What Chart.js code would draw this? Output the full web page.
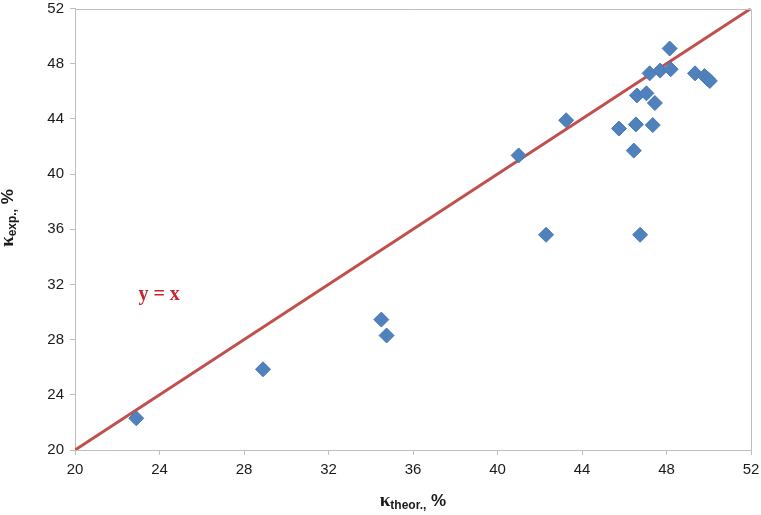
<!DOCTYPE html>
<html>
<head>
<meta charset="utf-8">
<script src="https://cdn.jsdelivr.net/npm/chart.js@4.4.1/dist/chart.umd.min.js"></script>
<style>
	html, body { margin: 0; padding: 0; background: #fff; }
	canvas { display: block; }
</style>
</head>
<body>
<canvas id="chartKappa" width="761" height="515"></canvas>
<script>
'use strict'

// measured points: theoretical vs experimental, %
const kappaTheor = [22.9, 28.9, 34.5, 34.75, 41.0, 42.3, 43.25, 45.75, 46.45, 46.55, 46.6, 46.75, 47.05, 47.35, 47.2, 47.45, 47.7, 48.15, 48.2, 49.35, 49.8, 49.95, 50.05];
const kappaExp = [22.3, 25.85, 29.45, 28.3, 41.35, 35.6, 43.9, 43.3, 41.7, 43.6, 45.7, 35.6, 45.85, 43.55, 47.3, 45.15, 47.5, 49.1, 47.6, 47.3, 47.1, 46.9, 46.75];

// y = x reference line
const lineX = [20, 52];
const lineY = [20, 52];

const axisMin = 20;
const axisMax = 52;
const axisStep = 4;

const colors = {
	marker: '#4F81BD',
	markerBorder: '#4A7AB5',
	line: '#C0504D',
	axis: '#BFBFBF',
	text: '#1A1A1A',
	label: '#C0282D',
};

const tickFont = { family: '"Liberation Sans Narrow", "Liberation Sans", Arial, sans-serif', size: 15 };

let ctx = document.getElementById('chartKappa').getContext('2d');

// draws "κ<sub>sub</sub>, %" style titles + frame + y = x label
const extras = {
	id: 'extras',
	afterDraw(chart) {
		const c = chart.ctx;
		const a = chart.chartArea;
		c.save();

		// top and right frame
		c.strokeStyle = colors.axis;
		c.lineWidth = 1;
		c.beginPath();
		c.moveTo(a.left, Math.round(a.top) + 0.5);
		c.lineTo(Math.round(a.right) + 0.5, Math.round(a.top) + 0.5);
		c.lineTo(Math.round(a.right) + 0.5, a.bottom);
		c.stroke();

		// y = x label, placed in data units
		const xs = chart.scales.x, ys = chart.scales.y;
		c.fillStyle = colors.label;
		c.font = 'bold 20px "Liberation Serif", "Times New Roman", serif';
		c.textAlign = 'left';
		c.textBaseline = 'alphabetic';
		c.fillText('y = x', xs.getPixelForValue(23.0), ys.getPixelForValue(30.9));

		// axis titles
		c.fillStyle = colors.text;
		drawTitle(c, 'theor.,', (a.left + a.right) / 2, 506, 0);
		drawTitle(c, 'exp.,', 13, 218, -Math.PI / 2);

		c.restore();
	},
};

function drawTitle(c, sub, cx, cy, rot) {
	const mainFont = 'bold 19px "Liberation Serif", "Times New Roman", serif';
	const subFont = 'bold 12px "Liberation Sans", Arial, sans-serif';
	const pctFont = 'bold 17px "Liberation Sans", Arial, sans-serif';
	c.save();
	c.translate(cx, cy);
	c.rotate(rot);
	c.textAlign = 'left';
	c.textBaseline = 'alphabetic';
	c.font = mainFont;
	const w1 = c.measureText('κ').width;
	c.font = subFont;
	const w2 = c.measureText(sub).width;
	c.font = pctFont;
	const w3 = c.measureText(' %').width;
	let x = -(w1 + w2 + w3) / 2;
	c.font = mainFont;
	c.fillText('κ', x, 0);
	x += w1;
	c.font = subFont;
	c.fillText(sub, x, 3);
	x += w2;
	c.font = pctFont;
	c.fillText(' %', x, 0);
	c.restore();
}

const scatterPoints = kappaTheor.map((v, i) => ({ x: v, y: kappaExp[i] }));
const linePoints = lineX.map((v, i) => ({ x: v, y: lineY[i] }));

function axisOptions(fit) {
	return {
		type: 'linear',
		min: axisMin,
		max: axisMax,
		ticks: {
			stepSize: axisStep,
			color: colors.text,
			font: tickFont,
			padding: 6,
		},
		grid: {
			drawOnChartArea: false,
			drawTicks: true,
			tickLength: 5,
			color: colors.axis,
		},
		border: {
			color: colors.axis,
		},
		afterFit: fit,
	};
}

let chartKappa = new Chart(ctx, {
	type: 'scatter',
	data: {
		datasets: [
			{
				label: 'y = x',
				data: linePoints,
				showLine: true,
				borderColor: colors.line,
				borderWidth: 3,
				pointRadius: 0,
				order: 2,
			},
			{
				label: 'data',
				data: scatterPoints,
				pointStyle: 'rectRot',
				pointRadius: 7.5,
				backgroundColor: colors.marker,
				borderColor: colors.markerBorder,
				borderWidth: 1,
				order: 1,
			},
		],
	},
	options: {
		responsive: false,
		animation: false,
		layout: {
			padding: { top: 6, right: 10, left: 0, bottom: 0 },
		},
		plugins: {
			legend: { display: false },
			tooltip: { enabled: false },
		},
		scales: {
			x: axisOptions(function (scale) {
				scale.height = 65;
				scale.paddingLeft = 0;
				scale.paddingRight = 0;
			}),
			y: axisOptions(function (scale) {
				scale.width = 75;
				scale.paddingTop = 0;
				scale.paddingBottom = 0;
			}),
		},
	},
	plugins: [extras],
});
</script>
</body>
</html>
